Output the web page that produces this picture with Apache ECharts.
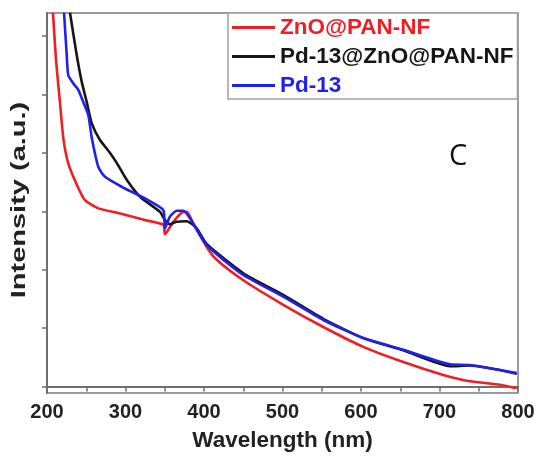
<!DOCTYPE html>
<html>
<head>
<meta charset="utf-8">
<script src="https://cdn.jsdelivr.net/npm/echarts@6/dist/echarts.min.js"></script>
<style>html,body{margin:0;padding:0;background:#fff;}#c{width:542px;height:469px;}</style>
</head>
<body>
<div id="c"></div>
<script>
const seriesNames = ['ZnO@PAN-NF', 'Pd-13@ZnO@PAN-NF', 'Pd-13'];
const xTickValues = [200, 300, 400, 500, 600, 700, 800];
const yTickValues = [0, 1, 2, 3, 4, 5, 6];

const znoWavelength = [207.6, 211.5, 216.6, 220.8, 227.1, 237.8, 248.4, 265.4, 290.8, 324.8, 348.2, 350.3, 360.9, 373.6, 378.0, 386.4, 403.4, 416.2, 450.1, 501.0, 552.0, 602.9, 653.9, 704.8, 738.9, 777.1, 798.3];
const znoIntensity  = [6.40, 5.59, 4.85, 4.25, 3.82, 3.46, 3.19, 3.05, 2.97, 2.85, 2.77, 2.61, 2.82, 2.99, 2.99, 2.79, 2.39, 2.17, 1.82, 1.40, 1.02, 0.68, 0.42, 0.20, 0.09, 0.03, -0.03];

const pdZnoWavelength = [229.3, 237.8, 244.2, 250.6, 256.9, 267.5, 280.3, 288.8, 301.5, 318.5, 344.0, 350.3, 356.7, 365.2, 378.0, 390.7, 403.4, 450.1, 501.0, 552.0, 602.9, 653.9, 713.4, 738.9, 798.3];
const pdZnoIntensity  = [6.40, 5.68, 5.22, 4.87, 4.51, 4.22, 4.00, 3.83, 3.54, 3.25, 2.99, 2.85, 2.78, 2.82, 2.83, 2.71, 2.44, 1.94, 1.57, 1.16, 0.83, 0.62, 0.35, 0.36, 0.22];

const pdWavelength = [221.7, 225.1, 227.1, 233.5, 239.9, 246.2, 252.6, 256.9, 265.4, 273.9, 295.2, 324.8, 348.2, 350.3, 356.7, 365.2, 373.6, 382.2, 403.4, 450.1, 501.0, 552.0, 602.9, 653.9, 713.4, 738.9, 798.3];
const pdIntensity  = [6.40, 5.68, 5.33, 5.19, 5.08, 4.87, 4.65, 4.27, 3.76, 3.59, 3.42, 3.22, 3.02, 2.71, 2.91, 3.01, 3.01, 2.88, 2.42, 1.91, 1.54, 1.14, 0.83, 0.63, 0.38, 0.37, 0.23];

const colors = ['#f01e23', '#161616', '#2020ee'];

function pairs(xs, ys) { return xs.map((x, i) => [x, ys[i]]); }

const chart = echarts.init(document.getElementById('c'), null, {renderer: 'canvas'});
const FONT = '"Liberation Sans", Arial, sans-serif';

const makeSeries = (name, data, color) => ({
  name: name, type: 'line', data: data, symbol: 'none',
  smooth: 0.2,
  lineStyle: {color: color, width: 2.6}, itemStyle: {color: color},
  clip: true, z: 3
});

chart.setOption({
  animation: false,
  backgroundColor: '#ffffff',
  grid: {left: 47, right: 24, top: 13, bottom: 76, show: true, borderColor: '#7a7a7a', borderWidth: 1.5},
  title: {
    text: 'C', left: 444, top: 137,
    textStyle: {fontFamily: '"Open Sans", "Noto Sans", sans-serif', fontWeight: 'normal', fontSize: 29, color: '#111'}
  },
  graphic: [{
    type: 'text', x: 19, y: 200, rotation: Math.PI / 2, scaleX: 1.38,
    style: {
      text: 'Intensity (a.u.)', fill: '#222',
      font: 'bold 21px "Liberation Sans", Arial, sans-serif',
      align: 'center', verticalAlign: 'middle'
    }
  }],
  legend: {
    orient: 'vertical', left: 228, top: 13,
    padding: [3, 4, 2, 4], itemGap: 6,
    itemWidth: 43, itemHeight: 3, icon: 'rect',
    borderColor: '#a0a0a0', borderWidth: 1.5, backgroundColor: '#fff',
    textStyle: {fontFamily: FONT, fontWeight: 'bold', fontSize: 22.5, padding: [0, 0, 0, 0]},
    data: [
      {name: seriesNames[0], textStyle: {color: colors[0]}},
      {name: seriesNames[1], textStyle: {color: colors[1]}},
      {name: seriesNames[2], textStyle: {color: colors[2]}}
    ]
  },
  xAxis: {
    type: 'value', min: 200, max: 800, interval: 100,
    name: 'Wavelength (nm)', nameLocation: 'middle', nameGap: 36,
    nameTextStyle: {fontFamily: FONT, fontWeight: 'bold', fontSize: 22.5, color: '#222'},
    axisLine: {show: true, lineStyle: {color: '#6e6e6e', width: 2}},
    axisTick: {show: true, inside: false, length: 5, lineStyle: {color: '#6e6e6e', width: 1.5}},
    minorTick: {show: true, splitNumber: 2, length: 5, lineStyle: {color: '#6e6e6e', width: 1.5}},
    axisLabel: {
      margin: 9, fontFamily: FONT, fontWeight: 'bold', fontSize: 20, color: '#222',
      customValues: xTickValues
    },
    splitLine: {show: false}
  },
  yAxis: {
    type: 'value', min: -0.11, max: 6.395,
    axisLine: {show: true, lineStyle: {color: '#6e6e6e', width: 2}},
    axisTick: {show: true, inside: false, length: 5, lineStyle: {color: '#6e6e6e', width: 1.5}, customValues: yTickValues},
    axisLabel: {show: false},
    splitLine: {show: false}
  },
  series: [
    makeSeries(seriesNames[0], pairs(znoWavelength, znoIntensity), colors[0]),
    makeSeries(seriesNames[1], pairs(pdZnoWavelength, pdZnoIntensity), colors[1]),
    makeSeries(seriesNames[2], pairs(pdWavelength, pdIntensity), colors[2])
  ]
});
</script>
</body>
</html>
